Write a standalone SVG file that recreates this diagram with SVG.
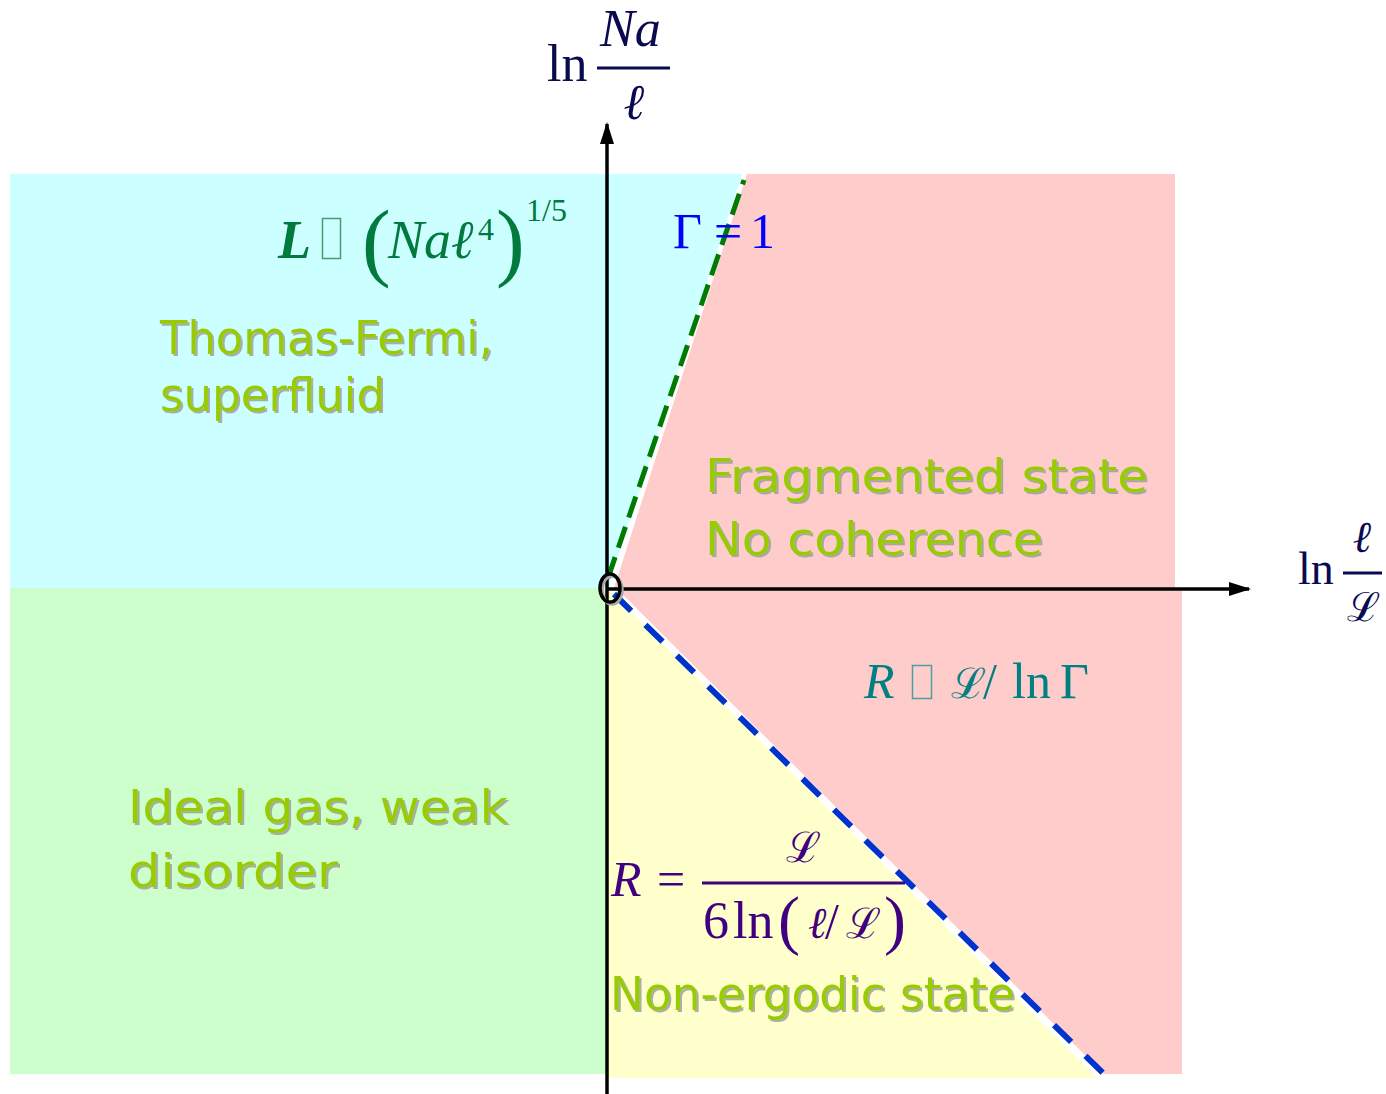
<svg xmlns="http://www.w3.org/2000/svg" width="1386" height="1094" viewBox="0 0 1386 1094">
<defs>
<filter id="sh" x="-5%" y="-20%" width="110%" height="140%">
<feDropShadow dx="2" dy="2" stdDeviation="0.6" flood-color="#9a9a9a" flood-opacity="0.8"/>
</filter>
<marker id="arr" markerWidth="22" markerHeight="14" refX="20" refY="7" orient="auto" markerUnits="userSpaceOnUse" viewBox="0 0 22 14">
<path d="M0,0 L22,7 L0,14 Z" fill="#000"/>
</marker>
<style>
.comic{font-family:"DejaVu Sans",sans-serif;font-size:47px;fill:#99CC00;filter:url(#sh)}
.m{font-family:"Liberation Serif","DejaVu Serif",serif}
.i{font-style:italic}
</style>
</defs>
<rect width="1386" height="1094" fill="#fff"/>
<g id="regions">
<polygon points="10,174 742,174 608,588 10,588" fill="#CCFFFF"/>
<polygon points="747,174 1175,174 1175,588 1182,588 1182,1074 1104,1074 616,588 614,588" fill="#FFCCCC"/>
<rect x="10" y="588" width="597" height="486" fill="#CCFFCC"/>
<polygon points="607,588 1097,1078 607,1078" fill="#FFFFCC"/>
</g>
<g id="connectors">
<line x1="608" y1="578" x2="744" y2="180" stroke="#007A00" stroke-width="5" stroke-dasharray="22,10"/>
<line x1="614" y1="594" x2="1105" y2="1075" stroke="#0033CC" stroke-width="6" stroke-dasharray="24,20"/>
<line x1="607" y1="1094" x2="607" y2="124" stroke="#000" stroke-width="3.5" marker-end="url(#arr)"/>
<line x1="607" y1="589" x2="1249" y2="589" stroke="#000" stroke-width="3.5" marker-end="url(#arr)"/>
</g>
<g id="origin">
<ellipse cx="612" cy="590" rx="10" ry="14" fill="none" stroke="#aaa" stroke-width="3.5"/>
<ellipse cx="610" cy="588" rx="10" ry="14" fill="none" stroke="#000" stroke-width="3.5"/>
</g>
<g id="axis-y-label" class="m" fill="#0A0A50">
<text x="547" y="81" font-size="52">ln</text>
<text x="600" y="46" font-size="52" class="i">Na</text>
<line x1="597" y1="68" x2="670" y2="68" stroke="#0A0A50" stroke-width="3"/>
<text x="634" y="119" font-size="50" class="i" text-anchor="middle">ℓ</text>
</g>
<g id="axis-x-label" class="m" fill="#0A0A50">
<text x="1298" y="584" font-size="46">ln</text>
<line x1="1343" y1="573" x2="1382" y2="573" stroke="#0A0A50" stroke-width="3"/>
<text x="1362" y="552" font-size="44" class="i" text-anchor="middle">ℓ</text>
<text x="1363" y="621" font-size="40" text-anchor="middle">ℒ</text>
</g>
<g id="formula-L" class="m" fill="#007A3D">
<text x="278" y="258" font-size="54" font-weight="bold" class="i">L</text>
<rect x="322.5" y="218.5" width="18" height="40" fill="none" stroke="#4a9a70" stroke-width="1.5"/>
<text x="362" y="270" font-size="86">(</text>
<text x="388" y="258" font-size="54" class="i">Naℓ</text>
<text x="478" y="240" font-size="32">4</text>
<text x="496" y="270" font-size="86">)</text>
<text x="526" y="221" font-size="32">1/5</text>
</g>
<g id="formula-gamma" class="m" fill="#0000FF">
<text x="673" y="248" font-size="50">Γ</text>
<text x="714" y="248" font-size="50">=</text>
<text x="750" y="248" font-size="50">1</text>
</g>
<g id="formula-R1" class="m" fill="#008080">
<text x="864" y="698" font-size="50" class="i">R</text>
<rect x="912.5" y="665.5" width="19" height="33" fill="none" stroke="#4aa0a0" stroke-width="1.5"/>
<text x="968" y="698" font-size="42" text-anchor="middle">ℒ</text>
<text x="983" y="698" font-size="50">/</text>
<text x="1012" y="698" font-size="50">ln</text>
<text x="1060" y="698" font-size="50">Γ</text>
</g>
<g id="formula-R2" class="m" fill="#400080">
<text x="611" y="896" font-size="50" class="i">R</text>
<text x="657" y="896" font-size="50">=</text>
<line x1="702" y1="883" x2="905" y2="883" stroke="#400080" stroke-width="3"/>
<text x="803" y="862" font-size="42" text-anchor="middle">ℒ</text>
<text x="703" y="938" font-size="52">6</text>
<text x="733" y="938" font-size="52">ln</text>
<text x="778" y="942" font-size="66">(</text>
<text x="808" y="938" font-size="44" class="i">ℓ</text>
<text x="825" y="938" font-size="50">/</text>
<text x="863" y="938" font-size="42" text-anchor="middle">ℒ</text>
<text x="884" y="942" font-size="66">)</text>
</g>
<g id="label-tf">
<text class="comic" x="160" y="354" textLength="333" lengthAdjust="spacingAndGlyphs">Thomas-Fermi,</text>
<text class="comic" x="160" y="411" textLength="225" lengthAdjust="spacingAndGlyphs">superfluid</text>
</g>
<g id="label-frag">
<text class="comic" x="705" y="492" textLength="443" lengthAdjust="spacingAndGlyphs">Fragmented state</text>
<text class="comic" x="705" y="555" textLength="338" lengthAdjust="spacingAndGlyphs">No coherence</text>
</g>
<g id="label-ideal">
<text class="comic" x="128" y="823" textLength="380" lengthAdjust="spacingAndGlyphs">Ideal gas, weak</text>
<text class="comic" x="128" y="887" textLength="210" lengthAdjust="spacingAndGlyphs">disorder</text>
</g>
<g id="label-nonerg">
<text class="comic" x="610" y="1010" textLength="405" lengthAdjust="spacingAndGlyphs">Non-ergodic state</text>
</g>
</svg>
